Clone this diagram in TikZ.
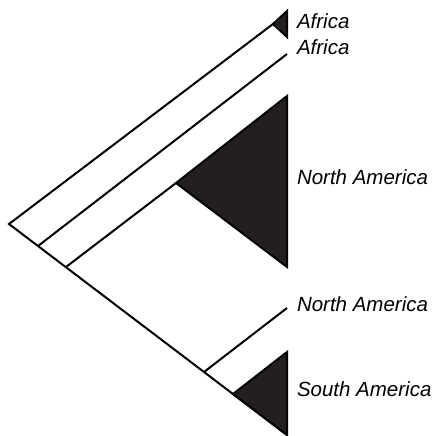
\documentclass[tikz,border=0pt]{standalone}
\usepackage{fontspec}
\setmainfont{Liberation Sans}
\definecolor{cladefill}{HTML}{231F20}

\begin{document}
\begin{tikzpicture}[x=1pt,y=-1pt,line width=2pt,line join=miter,
        branch/.style={draw=black},
        clade/.style={draw=black,fill=cladefill},
        area/.style={anchor=base west,inner sep=0pt,
            font=\itshape\fontsize{20.5}{24}\selectfont}]
        \useasboundingbox (0,0) rectangle (437,436);
        % tree points
        \coordinate (root) at (9,224);
        \coordinate (n1) at (38,246);
        \coordinate (n2) at (66,267);
        \coordinate (n3) at (204,372);
        \coordinate (n4) at (233,394);
        \coordinate (tail) at (287,435);
        \coordinate (afrA) at (273,24);
        \coordinate (afrB) at (287,54);
        \coordinate (namA) at (176,183);
        \coordinate (namB) at (287,308);
        % collapsed clades
        \draw [clade] (afrA) -- (287,11) -- (287,37) -- cycle;
        \draw [clade] (namA) -- (287,96) -- (287,267) -- cycle;
        \draw [clade] (n4) -- (287,352) -- (tail) -- cycle;
        % branches
        \draw [branch] (afrA) -- (root) -- (tail);
        \draw [branch] (n1) -- (afrB);
        \draw [branch] (n2) -- (namA);
        \draw [branch] (n3) -- (namB);
        % labels
        \node [area] (lafrA) at (296,29) {Africa};
        \node [area] (lafrB) at (296,55) {Africa};
        \node [area] (lnamA) at (296,184) {North America};
        \node [area] (lnamB) at (296,311) {North America};
        \node [area] (lsam) at (296,396) {South America};
\end{tikzpicture}
\end{document}
